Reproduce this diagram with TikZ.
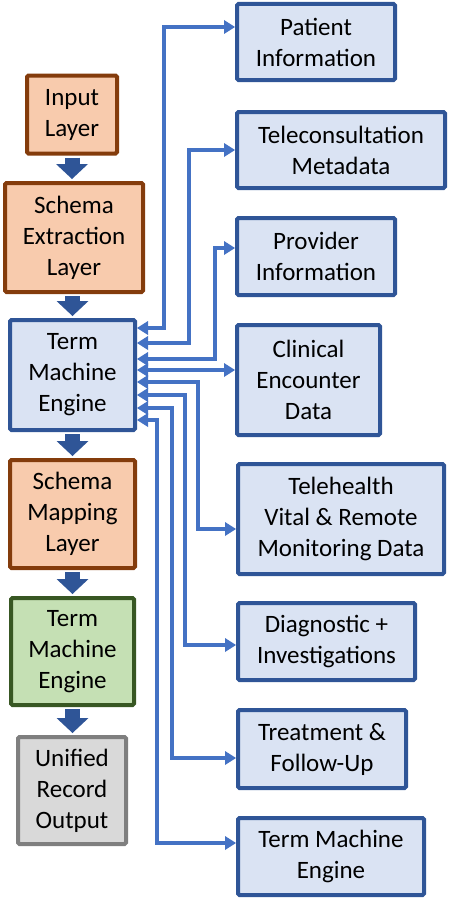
\documentclass[tikz,border=0pt]{standalone}
\usepackage{fontspec}
\setmainfont{Carlito}
\usetikzlibrary{arrows.meta}
\definecolor{peach}{HTML}{F8CBAD}
\definecolor{rust}{HTML}{843C0C}
\definecolor{paleblue}{HTML}{DAE3F3}
\definecolor{navy}{HTML}{2F5597}
\definecolor{palegreen}{HTML}{C5E0B4}
\definecolor{forest}{HTML}{385723}
\definecolor{palegray}{HTML}{D9D9D9}
\definecolor{midgray}{HTML}{7F7F7F}
\definecolor{linkblue}{HTML}{4472C4}
\tikzset{
  box/.style={draw, line width=4pt, rounded corners=1.5pt, align=center, inner sep=0pt,
    font=\fontsize{25}{31}\selectfont},
  layerbox/.style={box, draw=rust, fill=peach},
  enginebox/.style={box, draw=navy, fill=paleblue},
  greenbox/.style={box, draw=forest, fill=palegreen},
  graybox/.style={box, draw=midgray, fill=palegray},
  databox/.style={box, draw=navy, fill=paleblue},
  flow/.style={draw=navy, line width=15pt,
    -{Triangle[width=32pt,length=15pt,line width=0pt]}},
  link/.style={draw=linkblue, line width=3.5pt,
    {Triangle[width=14pt,length=11pt,line width=0pt]}-{Triangle[width=14pt,length=11pt,line width=0pt]}}
}
\begin{document}
\begin{tikzpicture}[x=1pt,y=-1pt]
	\useasboundingbox (0,0) rectangle (448,899);

	% pipeline
	\node[layerbox, minimum width=90pt, minimum height=78pt] (in) at (72,114.5) {Input\\Layer};
	\node[layerbox, minimum width=138pt, minimum height=109pt] (sel) at (74,237.5) {Schema\\Extraction\\Layer};
	\node[enginebox, minimum width=125pt, minimum height=110pt] (tme) at (72.5,375) {Term\\Machine\\Engine};
	\node[layerbox, minimum width=125pt, minimum height=108pt] (sml) at (72.5,514) {Schema\\Mapping\\Layer};
	\node[greenbox, minimum width=123pt, minimum height=107pt] (tmg) at (72.5,651.5) {Term\\Machine\\Engine};
	\node[graybox, minimum width=108pt, minimum height=107pt] (uro) at (72,790.5) {Unified\\Record\\Output};

	\draw[flow] ([yshift=-2pt]in.south) -- ([yshift=2pt]in.south |- sel.north);
	\draw[flow] ([yshift=-2pt]sel.south -| tme.north) -- ([yshift=2pt]tme.north);
	\draw[flow] ([yshift=-2pt]tme.south) -- ([yshift=2pt]sml.north);
	\draw[flow] ([yshift=-2pt]sml.south) -- ([yshift=2pt]tmg.north);
	\draw[flow] ([yshift=-2pt]tmg.south) -- ([yshift=2pt]tmg.south |- uro.north);

	% data categories
	\node[databox, minimum width=158pt, minimum height=76pt] (pat) at (316,42) {Patient\\Information};
	\node[databox, minimum width=208pt, minimum height=76pt] (tel) at (341,150) {Teleconsultation\\Metadata};
	\node[databox, minimum width=158pt, minimum height=77pt] (pro) at (316,256.5) {Provider\\Information};
	\node[databox, minimum width=143pt, minimum height=110pt] (cli) at (308.5,380) {Clinical\\Encounter\\Data};
	\node[databox, minimum width=206pt, minimum height=110pt] (vit) at (341,519) {Telehealth\\Vital \& Remote\\Monitoring Data};
	\node[databox, minimum width=177pt, minimum height=77pt] (dia) at (326.5,641.5) {Diagnostic +\\Investigations};
	\node[databox, minimum width=168pt, minimum height=78pt] (tre) at (322,749) {Treatment \&\\Follow-Up};
	\node[databox, minimum width=186pt, minimum height=77pt] (rte) at (331,856.5) {Term Machine\\Engine};

	\draw[link] ([yshift=47pt]tme.east) -| (164,27) -- ([yshift=15pt]pat.west);
	\draw[link] ([yshift=32pt]tme.east) -| (189,150) -- (tel.west);
	\draw[link] ([yshift=16pt]tme.east) -| (215,248) -- ([yshift=8.5pt]pro.west);
	\draw[link] ([yshift=5pt]tme.east) -- ([yshift=5pt]tme.east -| cli.west);
	\draw[link] ([yshift=-7pt]tme.east) -| (198,529) -- ([yshift=-10pt]vit.west);
	\draw[link] ([yshift=-20pt]tme.east) -| (185,645) -- ([yshift=-3.5pt]dia.west);
	\draw[link] ([yshift=-33pt]tme.east) -| (172,758) -- ([yshift=-9pt]tre.west);
	\draw[link] ([yshift=-45pt]tme.east) -| (157,843) -- ([yshift=13.5pt]rte.west);
\end{tikzpicture}
\end{document}
